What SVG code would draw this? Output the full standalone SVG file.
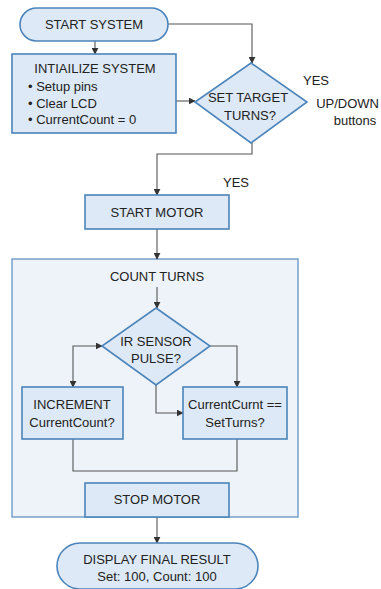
<svg xmlns="http://www.w3.org/2000/svg" width="381" height="589" viewBox="0 0 381 589">
  <defs>
    <marker id="arr" viewBox="0 0 10 10" refX="9" refY="5" markerWidth="7" markerHeight="7" orient="auto-start-reverse" markerUnits="userSpaceOnUse">
      <path d="M0,0 L10,5 L0,10 z" fill="#333"/>
    </marker>
    <style>
      text { font-family: "Liberation Sans", Arial, sans-serif; font-size: 13px; fill: #222; }
      .c { text-anchor: middle; }
      .node { fill: #dde9f6; stroke: #4b84ba; stroke-width: 1.6; }
      .group { fill: #eef3fa; stroke: #6d9bc8; stroke-width: 1.4; }
      .link { fill: none; stroke: #555; stroke-width: 1.1; }
    </style>
  </defs>
  <rect width="381" height="589" fill="#ffffff"/>

  <!-- container for the counting loop -->
  <g id="count-turns">
    <rect class="group" x="12" y="259" width="286" height="258"/>
    <text class="c" x="157" y="281">COUNT TURNS</text>
  </g>

  <g id="connectors">
    <path class="link" d="M95,41 V54" marker-end="url(#arr)"/>
    <path class="link" d="M168,24 H252 V63" marker-end="url(#arr)"/>
    <path class="link" d="M176,101 H195" marker-end="url(#arr)"/>
    <path class="link" d="M252,143 V154 H157 V195" marker-end="url(#arr)"/>
    <path class="link" d="M157,229 V259" marker-end="url(#arr)"/>
    <path class="link" d="M157,287 V308" marker-end="url(#arr)"/>
    <path class="link" d="M73,387 V346 H102" marker-start="url(#arr)" marker-end="url(#arr)"/>
    <path class="link" d="M210,346 H237 V387" marker-end="url(#arr)"/>
    <path class="link" d="M156,385 V413 H183" marker-end="url(#arr)"/>
    <path class="link" d="M73,439 V471 H237 V439"/>
    <path class="link" d="M157,517 V543" marker-end="url(#arr)"/>
    <text x="303" y="85">YES</text>
    <text x="379" y="108" text-anchor="end" font-size="12">UP/DOWN</text>
    <text class="c" x="355" y="125" font-size="12.5">buttons</text>
    <text x="223" y="187">YES</text>
  </g>

  <g id="start-system">
    <rect class="node" x="20" y="8" width="148" height="33" rx="16.5"/>
    <text class="c" x="94" y="29">START SYSTEM</text>
  </g>

  <g id="initialize-system">
    <rect class="node" x="12" y="54" width="164" height="79"/>
    <text class="c" x="95" y="73">INTIAILIZE SYSTEM</text>
    <text x="28" y="91">•  Setup pins</text>
    <text x="28" y="108">•  Clear LCD</text>
    <text x="28" y="124">•  CurrentCount = 0</text>
  </g>

  <g id="set-target-turns">
    <polygon class="node" points="251,63 307,102 251,143 195,102"/>
    <text class="c" x="248" y="102">SET TARGET</text>
    <text class="c" x="250" y="120">TURNS?</text>
  </g>

  <g id="start-motor">
    <rect class="node" x="85" y="195" width="144" height="34"/>
    <text class="c" x="157" y="217">START MOTOR</text>
  </g>

  <g id="ir-sensor-pulse">
    <polygon class="node" points="156,308 210,346 156,385 102,346"/>
    <text class="c" x="156" y="346">IR SENSOR</text>
    <text class="c" x="156" y="363">PULSE?</text>
  </g>

  <g id="increment">
    <rect class="node" x="22" y="387" width="101" height="52"/>
    <text class="c" x="72" y="409">INCREMENT</text>
    <text class="c" x="72" y="427">CurrentCount?</text>
  </g>

  <g id="compare">
    <rect class="node" x="183" y="387" width="104" height="52"/>
    <text class="c" x="235" y="409">CurrentCurnt ==</text>
    <text class="c" x="235" y="427">SetTurns?</text>
  </g>

  <g id="stop-motor">
    <rect class="node" x="85" y="483" width="144" height="34"/>
    <text class="c" x="157" y="504">STOP MOTOR</text>
  </g>

  <g id="display-result">
    <rect class="node" x="57" y="543" width="201" height="46" rx="23"/>
    <text class="c" x="157" y="564">DISPLAY FINAL RESULT</text>
    <text class="c" x="157" y="581">Set: 100, Count: 100</text>
  </g>
</svg>
